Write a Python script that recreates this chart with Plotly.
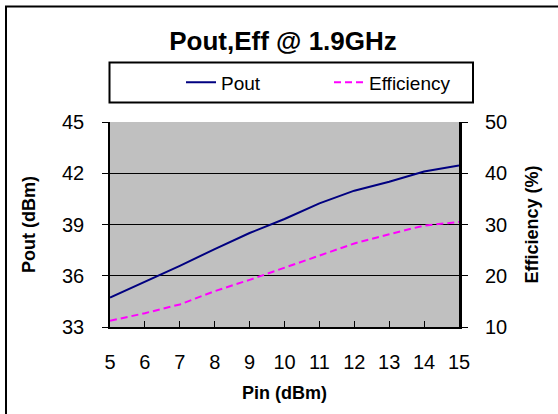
import plotly.graph_objects as go

pin = [5, 6, 7, 8, 9, 10, 11, 12, 13, 14, 15]
pout = [34.72, 35.64, 36.58, 37.56, 38.5, 39.32, 40.24, 40.98, 41.5, 42.1, 42.45]
eff = [11.2, 12.7, 14.4, 17.0, 19.2, 21.6, 23.9, 26.3, 28.1, 29.8, 30.5]

FONT = "Arial, Liberation Sans, sans-serif"
L, R, T, B = 110, 459, 122, 327
PW, PH = R - L, B - T


def px(x):
    return (x - L) / PW


def py(y):
    return (B - y) / PH


fig = go.Figure()
fig.add_trace(go.Scatter(x=pin, y=pout, name="Pout", mode="lines",
                         line=dict(color="#000080", width=2)))
fig.add_trace(go.Scatter(x=pin, y=eff, name="Efficiency", mode="lines", yaxis="y2",
                         line=dict(color="#FF00FF", width=2, dash="7px,4px")))

fig.update_layout(
    width=558, height=414,
    margin=dict(l=L, r=558 - R, t=T, b=414 - B, autoexpand=False),
    paper_bgcolor="white", plot_bgcolor="#C0C0C0",
    font=dict(family=FONT, size=20, color="black"),
    title=dict(text="<b>Pout,Eff @ 1.9GHz</b>", x=283 / 558, xanchor="center",
               y=1 - 41 / 414, yanchor="middle", font=dict(size=26)),
    showlegend=True,
    legend=dict(orientation="h", x=px(181), xanchor="left", y=py(82.5), yanchor="middle",
                bgcolor="rgba(0,0,0,0)", borderwidth=0,
                font=dict(size=19), entrywidth=103, entrywidthmode="pixels"),
    xaxis=dict(range=[5, 15], tickvals=pin, ticks="inside", ticklen=6, tickcolor="black",
               showline=True, linecolor="black", linewidth=2, showgrid=False, zeroline=False,
               ticklabelstandoff=16,
               title=dict(text="<b>Pin (dBm)</b>", font=dict(size=18), standoff=14)),
    yaxis=dict(range=[33, 45], tickvals=[33, 36, 39, 42, 45], ticks="outside", ticklen=6,
               tickcolor="black", showline=True, linecolor="black", linewidth=1.5,
               showgrid=True, gridcolor="black", gridwidth=1, zeroline=False,
               ticklabelstandoff=14,
               title=dict(text="<b>Pout (dBm)</b>", font=dict(size=18), standoff=22)),
    yaxis2=dict(range=[10, 50], tickvals=[10, 20, 30, 40, 50], overlaying="y", side="right",
                ticks="outside", ticklen=6, tickcolor="black", showline=True, linecolor="black",
                linewidth=3, showgrid=False, zeroline=False, ticklabelstandoff=13,
                title=dict(text="<b>Efficiency (%)</b>", font=dict(size=18), standoff=20)),
    shapes=[
        dict(type="rect", xref="paper", yref="paper",
             x0=px(6), x1=2.0, y0=-1.0, y1=py(6.5),
             line=dict(color="black", width=2), fillcolor="rgba(0,0,0,0)", layer="below"),
        dict(type="rect", xref="paper", yref="paper",
             x0=px(109.5), x1=px(473), y0=py(102.5), y1=py(62.5),
             line=dict(color="black", width=2), fillcolor="white", layer="above"),
    ],
)

fig.write_html("out.html", config={"displayModeBar": False},
               post_script="document.body.style.margin='0';")
